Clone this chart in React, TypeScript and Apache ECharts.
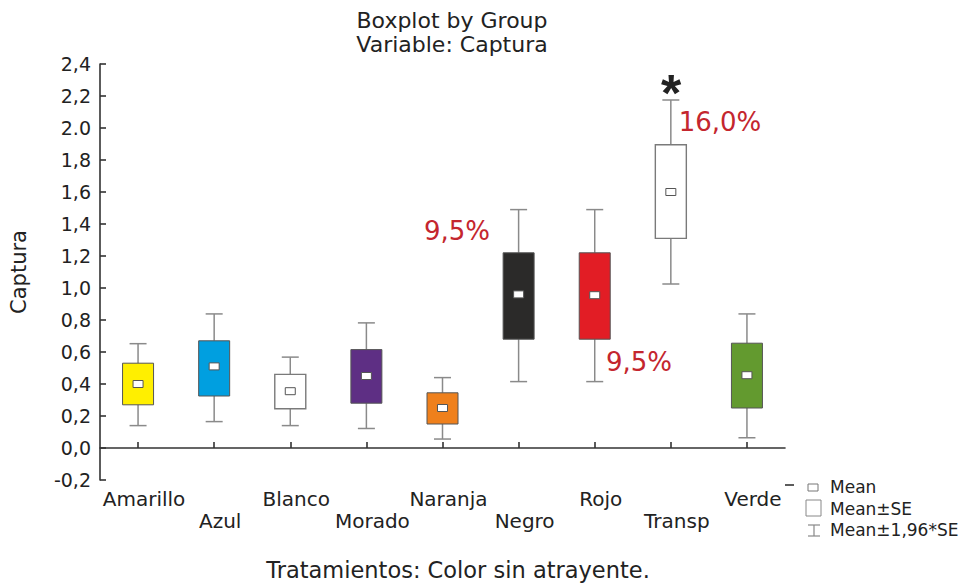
import React, { useEffect, useRef } from "react";
import * as echarts from "echarts";

const categories = ["Amarillo", "Azul", "Blanco", "Morado", "Naranja", "Negro", "Rojo", "Transp", "Verde"];
const means = [0.40, 0.51, 0.355, 0.45, 0.25, 0.96, 0.955, 1.60, 0.455];
const seLow = [0.27, 0.325, 0.245, 0.28, 0.15, 0.68, 0.68, 1.31, 0.25];
const seHigh = [0.53, 0.67, 0.46, 0.615, 0.345, 1.22, 1.22, 1.895, 0.655];
const ciLow = [0.14, 0.165, 0.14, 0.122, 0.056, 0.415, 0.415, 1.025, 0.064];
const ciHigh = [0.652, 0.838, 0.568, 0.782, 0.44, 1.49, 1.49, 2.175, 0.838];
const boxColors = ["#FFEF00", "#009FE0", "#FFFFFF", "#5E2F84", "#EF801C", "#2B2A29", "#E21D25", "#FFFFFF", "#639A2F"];
const yTickLabels = ["-0,2", "0,0", "0,2", "0,4", "0,6", "0,8", "1,0", "1,2", "1,4", "1,6", "1,8", "2.0", "2,2", "2,4"];

const FONT = "DejaVu Sans";
const RED = "#C4262E";

export default function App() {
  const ref = useRef<HTMLDivElement>(null);
  useEffect(() => {
    if (!ref.current) return;
    const chart = echarts.init(ref.current, null, { renderer: "svg" });
    const data = categories.map((c, i) => [i, ciLow[i], seLow[i], means[i], seHigh[i], ciHigh[i]]);
    const option: any = {
      animation: false,
      backgroundColor: "#ffffff",
      grid: { left: 96, right: 181, top: 64, bottom: 101, containLabel: false },
      xAxis: {
        type: "category",
        data: categories,
        boundaryGap: true,
        axisLine: { show: true, lineStyle: { color: "#333", width: 1.6 } },
        axisTick: { show: true, inside: true, alignWithLabel: true, length: 6, lineStyle: { color: "#333", width: 1.6 } },
        axisLabel: {
          interval: 0,
          margin: 8,
          fontFamily: FONT,
          fontSize: 20,
          color: "#222",
          lineHeight: 22,
          verticalAlign: "top",
          padding: [0, 0, 0, 12],
          formatter: (v: string, i: number) => (i % 2 === 1 ? "\n" + v : v),
        },
        splitLine: { show: false },
        name: "Tratamientos: Color sin atrayente.",
        nameLocation: "middle",
        nameGap: 78,
        nameTextStyle: { fontFamily: FONT, fontSize: 22.5, color: "#222", padding: [0, 0, 0, 31] },
      },
      yAxis: {
        type: "value",
        min: -0.2,
        max: 2.4,
        interval: 0.2,
        axisLine: { show: true, lineStyle: { color: "#333", width: 1.6 } },
        axisTick: { show: true, inside: true, length: 6, lineStyle: { color: "#333", width: 1.6 } },
        axisLabel: {
          margin: 9,
          fontFamily: FONT,
          fontSize: 19,
          color: "#222",
          padding: [4, 0, 0, 0],
          formatter: (v: number) => yTickLabels[Math.round((v + 0.2) / 0.2)] ?? "",
        },
        splitLine: { show: false },
        name: "Captura",
        nameLocation: "middle",
        nameRotate: 90,
        nameGap: 71,
        nameTextStyle: { fontFamily: FONT, fontSize: 21, color: "#222" },
      },
      series: [
        {
          type: "custom",
          data,
          encode: { x: 0, y: [1, 2, 3, 4, 5] },
          renderItem: (params: any, api: any) => {
            const idx = api.value(0);
            const pLo = api.coord([idx, api.value(1)]);
            const pBLo = api.coord([idx, api.value(2)]);
            const pM = api.coord([idx, api.value(3)]);
            const pBHi = api.coord([idx, api.value(4)]);
            const pHi = api.coord([idx, api.value(5)]);
            const cx = pM[0];
            const bw = 31;
            const cw = 17;
            const col = boxColors[idx];
            const white = col.toUpperCase() === "#FFFFFF";
            const wStyle = { stroke: "#8A8A8A", lineWidth: 1.5 };
            return {
              type: "group",
              children: [
                { type: "line", shape: { x1: cx, y1: pLo[1], x2: cx, y2: pBLo[1] }, style: wStyle },
                { type: "line", shape: { x1: cx, y1: pBHi[1], x2: cx, y2: pHi[1] }, style: wStyle },
                { type: "line", shape: { x1: cx - cw / 2, y1: pLo[1], x2: cx + cw / 2, y2: pLo[1] }, style: wStyle },
                { type: "line", shape: { x1: cx - cw / 2, y1: pHi[1], x2: cx + cw / 2, y2: pHi[1] }, style: wStyle },
                {
                  type: "rect",
                  shape: { x: cx - bw / 2, y: pBHi[1], width: bw, height: pBLo[1] - pBHi[1] },
                  style: { fill: col, stroke: white ? "#7A7A7A" : "#555", lineWidth: white ? 1.4 : 1 },
                },
                {
                  type: "rect",
                  shape: { x: cx - 5, y: pM[1] - 3.5, width: 10, height: 7 },
                  style: { fill: "#FFFFFF", stroke: "#555", lineWidth: 1 },
                },
              ],
            };
          },
        },
      ],
      graphic: [
        { type: "line", shape: { x1: 785, y1: 485, x2: 794, y2: 485 }, style: { stroke: "#333", lineWidth: 1.6 } },
        {
          type: "text", x: 452, y: 20,
          style: { text: "Boxplot by Group", fontFamily: FONT, fontSize: 22, fill: "#222", align: "center", verticalAlign: "middle" },
        },
        {
          type: "text", x: 452, y: 44,
          style: { text: "Variable: Captura", fontFamily: FONT, fontSize: 22, fill: "#222", align: "center", verticalAlign: "middle" },
        },
        {
          type: "text", x: 457, y: 231,
          style: { text: "9,5%", fontFamily: FONT, fontSize: 26, fill: RED, align: "center", verticalAlign: "middle" },
        },
        {
          type: "text", x: 639, y: 362,
          style: { text: "9,5%", fontFamily: FONT, fontSize: 26, fill: RED, align: "center", verticalAlign: "middle" },
        },
        {
          type: "text", x: 720, y: 122,
          style: { text: "16,0%", fontFamily: FONT, fontSize: 26, fill: RED, align: "center", verticalAlign: "middle" },
        },
        {
          type: "text", x: 671, y: 93,
          style: { text: "*", fontFamily: "Liberation Sans", fontWeight: "bold", fontSize: 52, fill: "#222", align: "center", verticalAlign: "middle" },
        },
        { type: "rect", shape: { x: 808, y: 484, width: 10, height: 7 }, style: { fill: "#fff", stroke: "#777", lineWidth: 1 } },
        {
          type: "text", x: 830, y: 487,
          style: { text: "Mean", fontFamily: FONT, fontSize: 17, fill: "#222", align: "left", verticalAlign: "middle" },
        },
        { type: "rect", shape: { x: 806, y: 500, width: 15, height: 16 }, style: { fill: "#fff", stroke: "#888", lineWidth: 1 } },
        {
          type: "text", x: 830, y: 509,
          style: { text: "Mean±SE", fontFamily: FONT, fontSize: 17, fill: "#222", align: "left", verticalAlign: "middle" },
        },
        { type: "line", shape: { x1: 814, y1: 525, x2: 814, y2: 536 }, style: { stroke: "#888", lineWidth: 1.2 } },
        { type: "line", shape: { x1: 808, y1: 525, x2: 820, y2: 525 }, style: { stroke: "#888", lineWidth: 1.2 } },
        { type: "line", shape: { x1: 808, y1: 536, x2: 820, y2: 536 }, style: { stroke: "#888", lineWidth: 1.2 } },
        {
          type: "text", x: 830, y: 530,
          style: { text: "Mean±1,96*SE", fontFamily: FONT, fontSize: 17, fill: "#222", align: "left", verticalAlign: "middle" },
        },
      ],
    };
    chart.setOption(option);
    return () => chart.dispose();
  }, []);
  return <div ref={ref} style={{ width: 966, height: 586, position: "absolute", left: 0, top: 0 }} />;
}
